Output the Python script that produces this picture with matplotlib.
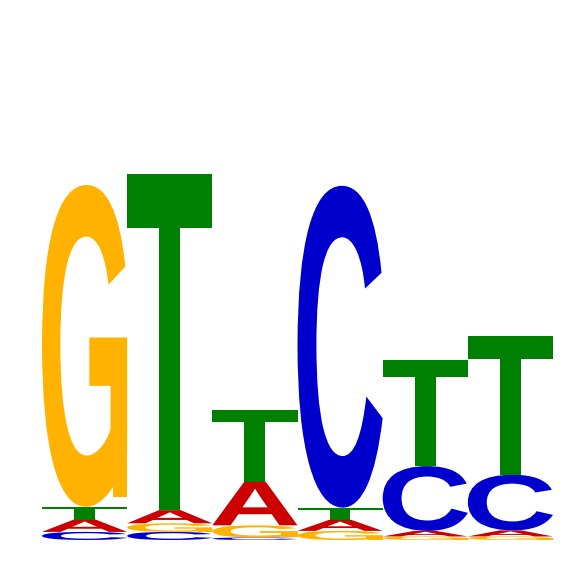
import matplotlib
matplotlib.use("Agg")
import matplotlib.pyplot as plt
from matplotlib.textpath import TextPath
from matplotlib.patches import PathPatch, Rectangle
from matplotlib.font_manager import FontProperties
from matplotlib.transforms import Affine2D

# letter heights (bits) per position
positions = [1, 2, 3, 4, 5, 6]
height_A = [0.049, 0.052, 0.172, 0.044, 0.022, 0.024]
height_C = [0.032, 0.032, 0.010, 1.272, 0.256, 0.220]
height_G = [1.272, 0.034, 0.048, 0.036, 0.014, 0.014]
height_T = [0.050, 1.328, 0.284, 0.048, 0.420, 0.548]

colors = {"A": "#CC0000", "C": "#0000CC", "G": "#FFB300", "T": "#008000"}

fig = plt.figure(figsize=(5.66, 5.66), dpi=100)
ax = fig.add_axes([42 / 566, 26 / 566, 511 / 566, 506 / 566])
ax.set_xlim(0.5, 6.5)
ax.set_ylim(0, 2)
ax.axis("off")

fp = FontProperties(family="Liberation Sans", weight="bold")


def draw_letter(ax, letter, x0, y0, w, h, color):
    tp = TextPath((0, 0), letter, size=100, prop=fp)
    ext = tp.get_extents()
    tr = (Affine2D()
          .translate(-ext.x0, -ext.y0)
          .scale(w / ext.width, h / ext.height)
          .translate(x0, y0))
    ax.add_patch(PathPatch(tr.transform_path(tp), facecolor=color,
                           edgecolor="none"))
    if letter == "G":
        # helvetica-like spur on the right of the G
        ax.add_patch(Rectangle((x0 + 0.83 * w, y0 + 0.03 * h), 0.17 * w,
                               0.45 * h, facecolor=color, edgecolor="none"))


for i, pos in enumerate(positions):
    stack = [("A", height_A[i]), ("C", height_C[i]),
             ("G", height_G[i]), ("T", height_T[i])]
    stack.sort(key=lambda s: s[1])
    y = 0
    for letter, h in stack:
        draw_letter(ax, letter, pos - 0.5, y, 1.0, h, colors[letter])
        y += h

fig.savefig("out.png", dpi=100)
